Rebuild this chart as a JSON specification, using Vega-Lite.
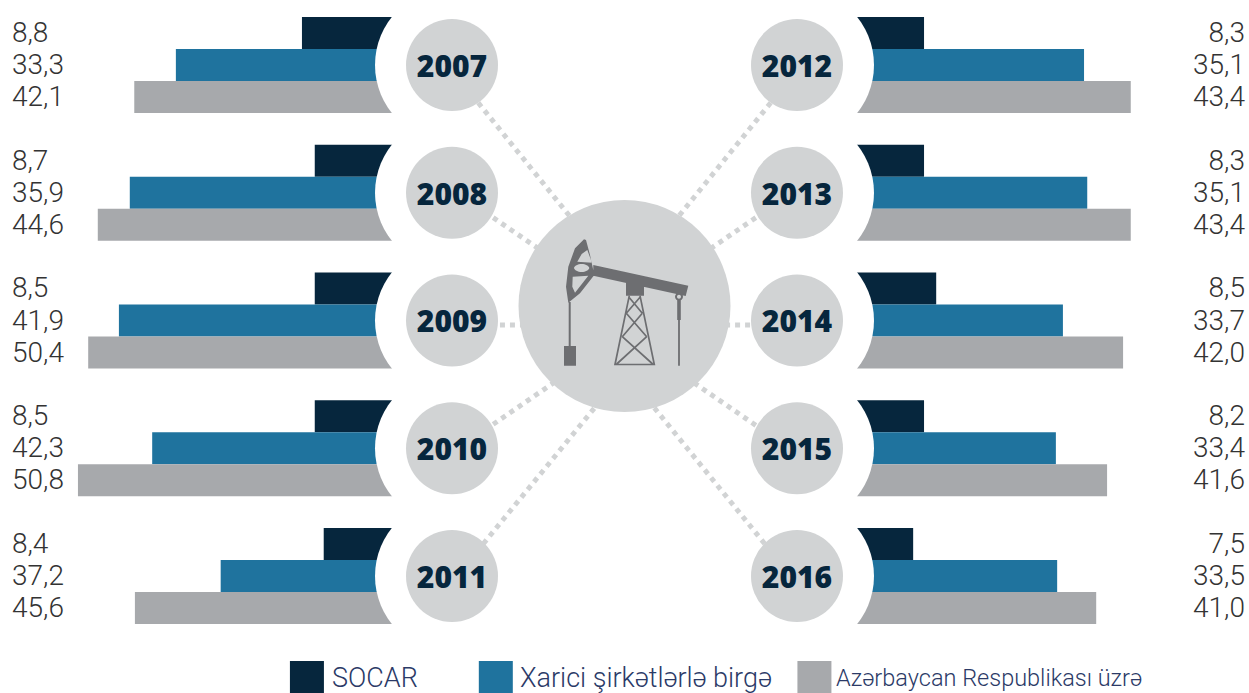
{
"$schema":"https://vega.github.io/schema/vega-lite/v6.json",
"width":1249,"height":693,"padding":0,"autosize":{"type":"none"},
"background":"white",
"config":{"view":{"stroke":null}},
"datasets":{
"bars":[
{"year":2007,"side":"L","row":1,"series":"SOCAR","label":"8,8","bar":16.1},
{"year":2007,"side":"L","row":1,"series":"Xarici şirkətlərlə birgə","label":"33,3","bar":35.8},
{"year":2007,"side":"L","row":1,"series":"Azərbaycan Respublikası üzrə","label":"42,1","bar":42.3},
{"year":2008,"side":"L","row":2,"series":"SOCAR","label":"8,7","bar":14.1},
{"year":2008,"side":"L","row":2,"series":"Xarici şirkətlərlə birgə","label":"35,9","bar":43.0},
{"year":2008,"side":"L","row":2,"series":"Azərbaycan Respublikası üzrə","label":"44,6","bar":48.0},
{"year":2009,"side":"L","row":3,"series":"SOCAR","label":"8,5","bar":14.1},
{"year":2009,"side":"L","row":3,"series":"Xarici şirkətlərlə birgə","label":"41,9","bar":44.7},
{"year":2009,"side":"L","row":3,"series":"Azərbaycan Respublikası üzrə","label":"50,4","bar":49.5},
{"year":2010,"side":"L","row":4,"series":"SOCAR","label":"8,5","bar":14.1},
{"year":2010,"side":"L","row":4,"series":"Xarici şirkətlərlə birgə","label":"42,3","bar":39.5},
{"year":2010,"side":"L","row":4,"series":"Azərbaycan Respublikası üzrə","label":"50,8","bar":51.1},
{"year":2011,"side":"L","row":5,"series":"SOCAR","label":"8,4","bar":12.7},
{"year":2011,"side":"L","row":5,"series":"Xarici şirkətlərlə birgə","label":"37,2","bar":28.8},
{"year":2011,"side":"L","row":5,"series":"Azərbaycan Respublikası üzrə","label":"45,6","bar":42.2},
{"year":2012,"side":"R","row":1,"series":"SOCAR","label":"8,3","bar":11.1},
{"year":2012,"side":"R","row":1,"series":"Xarici şirkətlərlə birgə","label":"35,1","bar":36.1},
{"year":2012,"side":"R","row":1,"series":"Azərbaycan Respublikası üzrə","label":"43,4","bar":43.4},
{"year":2013,"side":"R","row":2,"series":"SOCAR","label":"8,3","bar":11.1},
{"year":2013,"side":"R","row":2,"series":"Xarici şirkətlərlə birgə","label":"35,1","bar":36.6},
{"year":2013,"side":"R","row":2,"series":"Azərbaycan Respublikası üzrə","label":"43,4","bar":43.4},
{"year":2014,"side":"R","row":3,"series":"SOCAR","label":"8,5","bar":13.0},
{"year":2014,"side":"R","row":3,"series":"Xarici şirkətlərlə birgə","label":"33,7","bar":32.8},
{"year":2014,"side":"R","row":3,"series":"Azərbaycan Respublikası üzrə","label":"42,0","bar":42.2},
{"year":2015,"side":"R","row":4,"series":"SOCAR","label":"8,2","bar":11.1},
{"year":2015,"side":"R","row":4,"series":"Xarici şirkətlərlə birgə","label":"33,4","bar":31.7},
{"year":2015,"side":"R","row":4,"series":"Azərbaycan Respublikası üzrə","label":"41,6","bar":39.7},
{"year":2016,"side":"R","row":5,"series":"SOCAR","label":"7,5","bar":9.4},
{"year":2016,"side":"R","row":5,"series":"Xarici şirkətlərlə birgə","label":"33,5","bar":31.9},
{"year":2016,"side":"R","row":5,"series":"Azərbaycan Respublikası üzrə","label":"41,0","bar":38.0}
],
"years":[
{"year":"2007","col":-1,"row":1},{"year":"2008","col":-1,"row":2},{"year":"2009","col":-1,"row":3},{"year":"2010","col":-1,"row":4},{"year":"2011","col":-1,"row":5},
{"year":"2012","col":1,"row":1},{"year":"2013","col":1,"row":2},{"year":"2014","col":1,"row":3},{"year":"2015","col":1,"row":4},{"year":"2016","col":1,"row":5}
],
"spokes":[
{"year":"2007","c1":-0.884,"r1":1.235,"c2":-0.281,"r2":2.245},
{"year":"2008","c1":-0.809,"r1":2.151,"c2":-0.461,"r2":2.472},
{"year":"2009","c1":-0.780,"r1":3.035,"c2":-0.548,"r2":3.035},
{"year":"2010","c1":-0.809,"r1":3.857,"c2":-0.362,"r2":3.442},
{"year":"2011","c1":-0.855,"r1":4.808,"c2":-0.136,"r2":3.622},
{"year":"2012","c1":0.884,"r1":1.235,"c2":0.275,"r2":2.249},
{"year":"2013","c1":0.809,"r1":2.151,"c2":0.461,"r2":2.472},
{"year":"2014","c1":0.786,"r1":3.035,"c2":0.554,"r2":3.035},
{"year":"2015","c1":0.809,"r1":3.865,"c2":0.362,"r2":3.450},
{"year":"2016","c1":0.849,"r1":4.808,"c2":0.136,"r2":3.622}
],
"hub":[{"col":0,"row":2.8865}],
"key":[
{"series":"SOCAR","swatch":-1.841,"text":-1.696,"row":5.798,"textRow":5.804},
{"series":"Xarici şirkətlərlə birgə","swatch":-0.746,"text":-0.606,"row":5.798,"textRow":5.804},
{"series":"Azərbaycan Respublikası üzrə","swatch":1.101,"text":1.226,"row":5.798,"textRow":5.804}
]
},
"resolve":{"scale":{"x":"independent","y":"independent"}},
"layer":[
{"data":{"name":"bars"},"transform":[{"filter":"datum.side==='L'"}],
 "mark":{"type":"bar","orient":"horizontal"},
 "encoding":{
  "x":{"field":"bar","type":"quantitative","stack":null,"axis":null,"scale":{"domain":[63.28,-131.875],"nice":false,"zero":false}},
  "x2":{"datum":0},
  "y":{"field":"row","type":"ordinal","axis":null,"scale":{"domain":[1,2,3,4,5],"range":[1.125,639.875],"paddingInner":0,"paddingOuter":0}},
  "yOffset":{"field":"series","type":"nominal","scale":{"domain":["SOCAR","Xarici şirkətlərlə birgə","Azərbaycan Respublikası üzrə"],"paddingInner":0,"paddingOuter":0.496}},
  "color":{"field":"series","type":"nominal","legend":null,"scale":{"domain":["SOCAR","Xarici şirkətlərlə birgə","Azərbaycan Respublikası üzrə"],"range":["#06263d","#1f739e","#a7a9ac"]}}
 }},
{"data":{"name":"bars"},"transform":[{"filter":"datum.side==='R'"}],
 "mark":{"type":"bar","orient":"horizontal"},
 "encoding":{
  "x":{"field":"bar","type":"quantitative","stack":null,"axis":null,"scale":{"domain":[-133.28,61.875],"nice":false,"zero":false}},
  "x2":{"datum":0},
  "y":{"field":"row","type":"ordinal","axis":null,"scale":{"domain":[1,2,3,4,5],"range":[1.125,639.875],"paddingInner":0,"paddingOuter":0}},
  "yOffset":{"field":"series","type":"nominal","scale":{"domain":["SOCAR","Xarici şirkətlərlə birgə","Azərbaycan Respublikası üzrə"],"paddingInner":0,"paddingOuter":0.496}},
  "color":{"field":"series","type":"nominal","legend":null}
 }},
{"data":{"name":"years"},
 "mark":{"type":"point","shape":"circle","filled":true,"opacity":1,"color":"white","size":23716},
 "encoding":{
  "x":{"field":"col","type":"quantitative","axis":null,"scale":{"domain":[-3.6203,3.6203],"nice":false,"zero":false}},
  "y":{"field":"row","type":"quantitative","axis":null,"scale":{"domain":[5.9159,0.4912],"nice":false,"zero":false}}
 }},
{"data":{"name":"spokes"},
 "mark":{"type":"rule","color":"#d1d3d4","strokeWidth":5,"strokeDash":[5,5]},
 "encoding":{
  "x":{"field":"c1","type":"quantitative","axis":null,"scale":{"domain":[-3.6203,3.6203],"nice":false,"zero":false}},
  "y":{"field":"r1","type":"quantitative","axis":null,"scale":{"domain":[5.9159,0.4912],"nice":false,"zero":false}},
  "x2":{"field":"c2"},"y2":{"field":"r2"}
 }},
{"data":{"name":"years"},
 "mark":{"type":"point","shape":"circle","filled":true,"opacity":1,"color":"#d1d3d4","size":8464},
 "encoding":{
  "x":{"field":"col","type":"quantitative","axis":null,"scale":{"domain":[-3.6203,3.6203],"nice":false,"zero":false}},
  "y":{"field":"row","type":"quantitative","axis":null,"scale":{"domain":[5.9159,0.4912],"nice":false,"zero":false}}
 }},
{"data":{"name":"years"},
 "mark":{"type":"text","font":"Open Sans","fontWeight":800,"fontSize":30,"color":"#06263d","align":"center","baseline":"middle","dy":3},
 "encoding":{
  "x":{"field":"col","type":"quantitative","axis":null,"scale":{"domain":[-3.6203,3.6203],"nice":false,"zero":false}},
  "y":{"field":"row","type":"quantitative","axis":null,"scale":{"domain":[5.9159,0.4912],"nice":false,"zero":false}},
  "text":{"field":"year"}
 }},
{"data":{"name":"hub"},
 "mark":{"type":"point","shape":"circle","filled":true,"opacity":1,"color":"#d1d3d4","size":44944},
 "encoding":{
  "x":{"field":"col","type":"quantitative","axis":null,"scale":{"domain":[-3.6203,3.6203],"nice":false,"zero":false}},
  "y":{"field":"row","type":"quantitative","axis":null,"scale":{"domain":[5.9159,0.4912],"nice":false,"zero":false}}
 }},
{"data":{"name":"hub"},
 "mark":{"type":"point","filled":true,"opacity":1,"color":"#6d6e71","size":4,
  "shape":"M-40.5 -66.7L-49.5 -57.7L-56.2 -39.3L-58.5 -19.3L-56.2 -3.3L-44.5 -12.7L-30.2 -31L-34.5 -51L-38.5 -66Z M-37.2 -56L-32.5 -43.3L-47.2 -44.3L-42.8 -52Z M-35.2 -38A7.7 4.5 0 0 1 -50.5 -38A7.7 4.5 0 0 1 -35.2 -38Z M-51.8 -29.3L-36.2 -30.3L-49.5 -13.3L-52.2 -19.3Z M-31.2 -41L-31.2 -30.3L61.2 -10L63.8 -20.3Z M1.5 -24.3L1.5 -10.3L19.5 -10.3L19.5 -24.3Z M-60.5 40L-60.5 59.7L-48.5 59.7L-48.5 40Z M-55.8 -4L-55.8 41L-53.8 41L-53.8 -4Z M52.7 -6L52.7 14L56.3 14L56.3 -6Z M53.6 14L53.6 59.7L55.4 59.7L55.4 14Z M54.5 -13.3A4 4 0 0 0 54.5 -5.3A4 4 0 0 0 54.5 -13.3Z M54.5 -11.3A2 2 0 0 1 54.5 -7.3A2 2 0 0 1 54.5 -11.3Z"},
 "encoding":{
  "x":{"field":"col","type":"quantitative","axis":null,"scale":{"domain":[-3.6203,3.6203],"nice":false,"zero":false}},
  "y":{"field":"row","type":"quantitative","axis":null,"scale":{"domain":[5.9159,0.4912],"nice":false,"zero":false}}
 }},
{"data":{"name":"hub"},
 "mark":{"type":"point","filled":false,"opacity":1,"stroke":"#6d6e71","strokeWidth":1.7,"size":4,
  "shape":"M4.8 -10.3L-9.5 58.5L29.8 58.5L15.5 -10.3 M4.5 -8.7L17.8 7.3 M15.5 -8.7L1.8 7.3 M1.8 7.3L22.2 30.7 M17.8 7.3L-2.2 30.7 M-2.2 30.7L28.2 58 M22.2 30.7L-7.8 58"},
 "encoding":{
  "x":{"field":"col","type":"quantitative","axis":null,"scale":{"domain":[-3.6203,3.6203],"nice":false,"zero":false}},
  "y":{"field":"row","type":"quantitative","axis":null,"scale":{"domain":[5.9159,0.4912],"nice":false,"zero":false}}
 }},
{"data":{"name":"bars"},"transform":[{"filter":"datum.side==='L'"}],
 "mark":{"type":"text","font":"Roboto","fontWeight":300,"fontSize":28,"color":"#333333","align":"left","baseline":"middle","dy":1},
 "encoding":{
  "x":{"datum":-3.551,"type":"quantitative","axis":null,"scale":{"domain":[-3.6203,3.6203],"nice":false,"zero":false}},
  "y":{"field":"row","type":"ordinal","axis":null,"scale":{"domain":[1,2,3,4,5],"range":[1.125,639.875],"paddingInner":0,"paddingOuter":0}},
  "yOffset":{"field":"series","type":"nominal","scale":{"domain":["SOCAR","Xarici şirkətlərlə birgə","Azərbaycan Respublikası üzrə"],"paddingInner":0,"paddingOuter":0.496}},
  "text":{"field":"label"}
 }},
{"data":{"name":"bars"},"transform":[{"filter":"datum.side==='R'"}],
 "mark":{"type":"text","font":"Roboto","fontWeight":300,"fontSize":28,"color":"#333333","align":"right","baseline":"middle","dy":1},
 "encoding":{
  "x":{"datum":3.597,"type":"quantitative","axis":null,"scale":{"domain":[-3.6203,3.6203],"nice":false,"zero":false}},
  "y":{"field":"row","type":"ordinal","axis":null,"scale":{"domain":[1,2,3,4,5],"range":[1.125,639.875],"paddingInner":0,"paddingOuter":0}},
  "yOffset":{"field":"series","type":"nominal","scale":{"domain":["SOCAR","Xarici şirkətlərlə birgə","Azərbaycan Respublikası üzrə"],"paddingInner":0,"paddingOuter":0.496}},
  "text":{"field":"label"}
 }},
{"data":{"name":"key"},
 "mark":{"type":"point","shape":"square","filled":true,"opacity":1,"size":1156},
 "encoding":{
  "x":{"field":"swatch","type":"quantitative","axis":null,"scale":{"domain":[-3.6203,3.6203],"nice":false,"zero":false}},
  "y":{"field":"row","type":"quantitative","axis":null,"scale":{"domain":[5.9159,0.4912],"nice":false,"zero":false}},
  "color":{"field":"series","type":"nominal","legend":null}
 }},
{"data":{"name":"key"},"transform":[{"filter":"datum.series!=='Azərbaycan Respublikası üzrə'"}],
 "mark":{"type":"text","font":"Roboto","fontWeight":300,"fontSize":27,"color":"#2b3a67","align":"left","baseline":"middle"},
 "encoding":{
  "x":{"field":"text","type":"quantitative","axis":null,"scale":{"domain":[-3.6203,3.6203],"nice":false,"zero":false}},
  "y":{"field":"textRow","type":"quantitative","axis":null,"scale":{"domain":[5.9159,0.4912],"nice":false,"zero":false}},
  "text":{"field":"series"}
 }},
{"data":{"name":"key"},"transform":[{"filter":"datum.series==='Azərbaycan Respublikası üzrə'"}],
 "mark":{"type":"text","font":"Roboto","fontWeight":300,"fontSize":23.5,"color":"#2b3a67","align":"left","baseline":"middle"},
 "encoding":{
  "x":{"field":"text","type":"quantitative","axis":null,"scale":{"domain":[-3.6203,3.6203],"nice":false,"zero":false}},
  "y":{"field":"textRow","type":"quantitative","axis":null,"scale":{"domain":[5.9159,0.4912],"nice":false,"zero":false}},
  "text":{"field":"series"}
 }}
]
}
